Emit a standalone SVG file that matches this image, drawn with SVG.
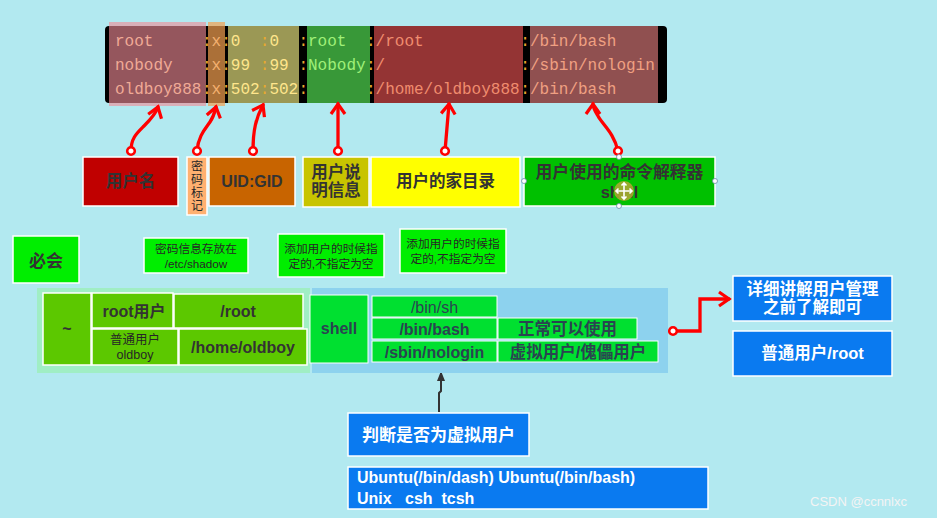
<svg xmlns="http://www.w3.org/2000/svg" width="937" height="518" viewBox="0 0 937 518">
<defs>
<style>
.bx{stroke:#fff;stroke-width:1.5}
.t{font-family:"Liberation Sans","Noto Sans CJK SC",sans-serif;font-weight:bold;text-anchor:middle;fill:#333;font-size:16px}
.s{font-family:"Liberation Sans","Noto Sans CJK SC",sans-serif;text-anchor:middle;fill:#262626;font-size:11.7px}
.w{fill:#fff}
.sh{fill:#2a4450}
.m{font-family:"Liberation Mono",monospace;font-size:16px}
.ca{fill:#f0aa96}.cx{fill:#f4b070}.cc{fill:#e8a830}.ck{fill:#ffe68c}.cg{fill:#a0f078}.cr{fill:#f08c6e}.cb{fill:#f0a082}
.rl{stroke:#f00;stroke-width:3.3;fill:none;stroke-linecap:round;marker-start:url(#dot);marker-end:url(#ah)}
</style>
<marker id="ah" viewBox="-13 -9 17 18" refX="0" refY="0" markerWidth="17" markerHeight="18" markerUnits="userSpaceOnUse" orient="auto"><path d="M-10,-7 L0,0 L-10,7" fill="none" stroke="#f00" stroke-width="3.2"/></marker>
<marker id="dot" viewBox="-6 -6 12 12" refX="0" refY="0" markerWidth="12" markerHeight="12" markerUnits="userSpaceOnUse"><circle r="3.8" fill="#fff" stroke="#f00" stroke-width="2.6"/></marker>
<marker id="ta" viewBox="0 -5 10 10" refX="8" refY="0" markerWidth="10" markerHeight="10" markerUnits="userSpaceOnUse" orient="auto"><path d="M0,-4 L10,0 L0,4z" fill="#333"/></marker>
</defs>
<rect width="937" height="518" fill="#b2e9f0"/>

<g id="passwd-bar">
<rect x="105" y="26" width="562" height="77" rx="4" fill="#000"/>
<rect x="228" y="26" width="71" height="77" fill="#9b9855"/>
<rect x="307" y="26" width="63" height="77" fill="#389838"/>
<rect x="374" y="26" width="149" height="77" fill="#943434"/>
<rect x="530" y="26" width="128" height="77" fill="#905050"/>
<rect x="109" y="22" width="97" height="84" fill="#f08a96" opacity="0.62"/>
<rect x="208" y="22" width="17" height="84" fill="#f4a050" opacity="0.7"/>
<text class="m" y="46"><tspan class="ca" x="115">root</tspan><tspan class="cc" x="201.9">:</tspan><tspan class="cx" x="211.5">x</tspan><tspan class="cc" x="221.2">:</tspan><tspan class="ck" x="230.8">0</tspan><tspan class="cc" x="259.8">:</tspan><tspan class="ck" x="269.4">0</tspan><tspan class="cc" x="298.4">:</tspan><tspan class="cg" x="308">root</tspan><tspan class="cc" x="365.9">:</tspan><tspan class="cr" x="375.6">/root</tspan><tspan class="cc" x="520.3">:</tspan><tspan class="cb" x="530">/bin/bash</tspan></text>
<text class="m" y="70"><tspan class="ca" x="115">nobody</tspan><tspan class="cc" x="201.9">:</tspan><tspan class="cx" x="211.5">x</tspan><tspan class="cc" x="221.2">:</tspan><tspan class="ck" x="230.8">99</tspan><tspan class="cc" x="259.8">:</tspan><tspan class="ck" x="269.4">99</tspan><tspan class="cc" x="298.4">:</tspan><tspan class="cg" x="308">Nobody</tspan><tspan class="cc" x="365.9">:</tspan><tspan class="cr" x="375.6">/</tspan><tspan class="cc" x="520.3">:</tspan><tspan class="cb" x="530">/sbin/nologin</tspan></text>
<text class="m" y="94"><tspan class="ca" x="115">oldboy888</tspan><tspan class="cc" x="201.9">:</tspan><tspan class="cx" x="211.5">x</tspan><tspan class="cc" x="221.2">:</tspan><tspan class="ck" x="230.8">502</tspan><tspan class="cc" x="259.8">:</tspan><tspan class="ck" x="269.4">502</tspan><tspan class="cc" x="298.4">:</tspan><tspan class="cc" x="365.9">:</tspan><tspan class="cr" x="375.6">/home/oldboy888</tspan><tspan class="cc" x="520.3">:</tspan><tspan class="cb" x="530">/bin/bash</tspan></text>
</g>

<g id="connectors">
<path class="rl" d="M131,151 C131,138 137,133 144,126 C151,119 156,113 158,107"/>
<path class="rl" d="M197,151 C198,136 206,128 210,122 C214,116 215,111 216,107"/>
<path class="rl" d="M253,151 C253,130 256,118 263,105"/>
<path class="rl" d="M338,151 L338,104"/>
<path class="rl" d="M445,151 L449,104"/>
<path class="rl" d="M618,151 C614,133 603,125 598,116 C595,111 593,108 593,104"/>
<path class="rl" d="M673,331 L700,331 L700,299 L729,299"/>
<path d="M439,412 L439,393 L441,391 L441,373" fill="none" stroke="#333" stroke-width="2" marker-end="url(#ta)"/>
</g>

<g id="n-username"><rect class="bx" x="83" y="157" width="95" height="49" fill="#c00000"/><text class="t" x="130.5" y="187" style="font-size:16.5px">用户名</text></g>
<g id="n-pwmark"><rect class="bx" x="187" y="157" width="20" height="58" fill="#ffb070"/><text class="s" x="197" y="170.5" style="font-size:12px">密</text><text class="s" x="197" y="183.5" style="font-size:12px">码</text><text class="s" x="197" y="196.5" style="font-size:12px">标</text><text class="s" x="197" y="209.5" style="font-size:12px">记</text></g>
<g id="n-uidgid"><rect class="bx" x="209" y="157" width="86" height="49" fill="#c86400"/><text class="t" x="252" y="187">UID:GID</text></g>
<g id="n-comment"><rect class="bx" x="303" y="157" width="66" height="50" fill="#c8c400"/><text class="t" x="336" y="177.5" style="font-size:16.5px">用户说</text><text class="t" x="336" y="196" style="font-size:16.5px">明信息</text></g>
<g id="n-home"><rect class="bx" x="371" y="157" width="149" height="50" fill="#ffff00"/><text class="t" x="445.5" y="187" style="font-size:16.5px">用户的家目录</text></g>
<g id="n-shell"><rect class="bx" x="524" y="157" width="191" height="49" fill="#00c000"/><text class="t" x="619.5" y="177.5" style="font-size:16.8px">用户使用的命令解释器</text><text class="t" x="619.5" y="197.5" style="font-size:16.5px">shell</text>
<circle cx="624" cy="191" r="10" fill="#a8a830" opacity="0.9"/>
<path d="M624,183 V199 M616,191 H632 M621.5,185.5 L624,183 L626.5,185.5 M621.5,196.5 L624,199 L626.5,196.5 M618.5,188.5 L616,191 L618.5,193.5 M629.5,188.5 L632,191 L629.5,193.5" stroke="#fff" stroke-width="1.6" fill="none"/>
<g fill="#fff" stroke="#6a8aa8" stroke-width="0.8"><circle cx="524" cy="181" r="2.5"/><circle cx="715" cy="181" r="2.5"/><circle cx="619" cy="157" r="2.5"/><circle cx="619" cy="206" r="2.5"/></g></g>

<g id="n-must"><rect class="bx" x="13" y="236" width="66" height="47" fill="#00ee00"/><text class="t" x="46" y="267" style="font-size:17px">必会</text></g>
<g id="n-shadow"><rect class="bx" x="144" y="238" width="104" height="35" fill="#00ee00"/><text class="s" x="196" y="252.5">密码信息存放在</text><text class="s" x="196" y="267.5">/etc/shadow</text></g>
<g id="n-note1"><rect class="bx" x="278" y="234" width="106" height="43" fill="#00ee00"/><text class="s" x="331" y="252.5">添加用户的时候指</text><text class="s" x="331" y="267.5">定的,不指定为空</text></g>
<g id="n-note2"><rect class="bx" x="400" y="229" width="106" height="44" fill="#00ee00"/><text class="s" x="453" y="247.5">添加用户的时候指</text><text class="s" x="453" y="262.5">定的,不指定为空</text></g>

<g id="g-home">
<rect x="37" y="288" width="273" height="85" fill="#a0eec4"/>
<rect class="bx" x="43" y="293" width="48" height="72" fill="#5cc800"/><text class="t" x="67" y="334">~</text>
<rect class="bx" x="92" y="293" width="81" height="35" fill="#5cc800"/><text class="t" x="134" y="317">root用户</text>
<rect class="bx" x="174" y="294" width="129" height="34" fill="#5cc800"/><text class="t" x="238" y="317">/root</text>
<rect class="bx" x="92" y="329" width="86" height="36" fill="#5cc800"/><text class="s" x="135" y="343.5" style="font-size:12.5px">普通用户</text><text class="s" x="135" y="359" style="font-size:12.5px">oldboy</text>
<rect class="bx" x="179" y="329" width="128" height="36" fill="#5cc800"/><text class="t" x="243" y="353">/home/oldboy</text>
</g>

<g id="g-shell">
<rect x="312" y="288" width="356" height="85" fill="#8dd2ee"/>
<rect class="bx" x="310" y="295" width="58" height="68" fill="#00e030" style="stroke-width:1"/><text class="t sh" x="339" y="334">shell</text>
<rect class="bx" x="372" y="296" width="125" height="21" fill="#00e030" style="stroke-width:1"/><text class="t sh" x="434.5" y="312.5" style="font-weight:normal">/bin/sh</text>
<rect class="bx" x="372" y="318" width="125" height="21" fill="#00e030" style="stroke-width:1"/><text class="t sh" x="434.5" y="334.5">/bin/bash</text>
<rect class="bx" x="498" y="318" width="139" height="21" fill="#00e030" style="stroke-width:1"/><text class="t sh" x="567.5" y="335" style="font-size:16.5px">正常可以使用</text>
<rect class="bx" x="372" y="341" width="125" height="21" fill="#00e030" style="stroke-width:1"/><text class="t sh" x="434.5" y="357.5">/sbin/nologin</text>
<rect class="bx" x="498" y="341" width="160" height="21" fill="#00e030" style="stroke-width:1"/><text class="t sh" x="578" y="358" style="font-size:16.5px">虚拟用户/傀儡用户</text>
</g>

<g id="n-detail"><rect class="bx" x="733" y="276" width="159" height="45" fill="#0a7af0"/><text class="t w" x="812.5" y="295" style="font-size:16.5px">详细讲解用户管理</text><text class="t w" x="812.5" y="313" style="font-size:16.5px">之前了解即可</text></g>
<g id="n-root"><rect class="bx" x="733" y="331" width="159" height="45" fill="#0a7af0"/><text class="t w" x="812.5" y="359" style="font-size:16.5px">普通用户/root</text></g>
<g id="n-judge"><rect class="bx" x="348" y="413" width="181" height="43" fill="#0a7af0"/><text class="t w" x="438.5" y="441" style="font-size:17px">判断是否为虚拟用户</text></g>
<g id="n-ubuntu"><rect class="bx" x="348" y="467" width="360" height="42" fill="#0a7af0"/><text class="t w" x="357" y="483" style="text-anchor:start;white-space:pre">Ubuntu(/bin/dash) Ubuntu(/bin/bash)</text><text class="t w" x="357" y="504" style="text-anchor:start;white-space:pre">Unix   csh  tcsh</text></g>

<text x="810" y="506" font-family="Liberation Sans, sans-serif" font-size="13" fill="#f4f4f4">CSDN @ccnnlxc</text>
</svg>
